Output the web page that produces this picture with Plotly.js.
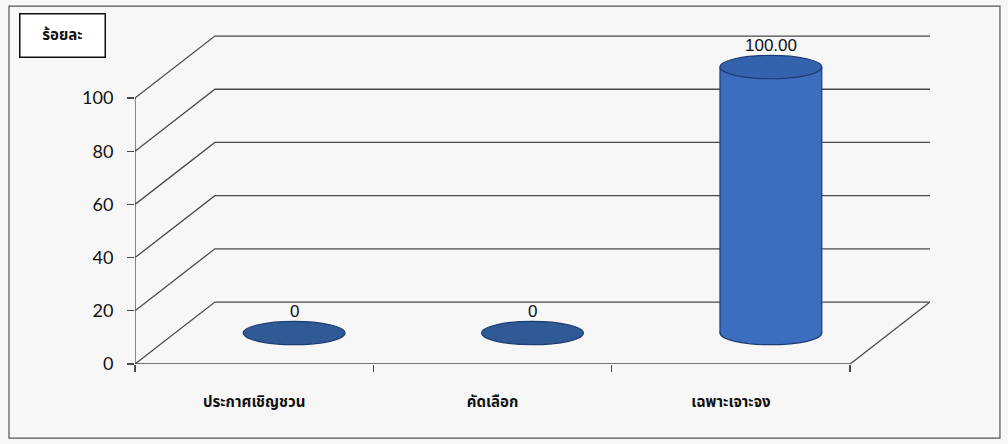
<!DOCTYPE html>
<html>
<head>
<meta charset="utf-8">
<script src="https://cdn.plot.ly/plotly-3.0.1.min.js"></script>
<style>html,body{margin:0;padding:0;background:#f7f7f7;}</style>
</head>
<body>
<div id="chart" style="width:1008px;height:444px;"></div>
<script>
// ---- data ----
const categories = ['ประกาศเชิญชวน', 'คัดเลือก', 'เฉพาะเจาะจง'];
const values = [0, 0, 100];
const dataLabels = ['0', '0', '100.00'];
const yTicks = [0, 20, 40, 60, 80, 100];
const yTitle = 'ร้อยละ';

// ---- 3D look parameters (oblique projection in data units) ----
const depthX = 0.335;   // horizontal depth offset, category units
const depthY = 23.3;    // vertical depth offset, value units
const yMax = 123.7;
const cylW = 0.427;     // cylinder width, category units
const ellH = 4.4;       // ellipse half-height, value units
const n = categories.length;
const xL = -0.5, xR = n - 0.5;

const lineCol = '#4a4a4a';
const edgeCol = '#1e3c72';
const bodyCol = '#3c6dbf';
const shapes = [];
// wall grid lines (front edge -> back wall)
yTicks.forEach(v => {
  shapes.push({type:'path', layer:'below', xref:'x', yref:'y',
    path:`M ${xL},${v} L ${xL+depthX},${v+depthY} L ${xR+depthX},${v+depthY}`,
    line:{color:lineCol, width:1.3}});
});
// floor front edge and right edge
shapes.push({type:'path', layer:'below', xref:'x', yref:'y',
  path:`M ${xL},0 L ${xR},0 L ${xR+depthX},${depthY}`,
  line:{color:lineCol, width:1.3}});
// vertical axis line
shapes.push({type:'line', layer:'below', xref:'x', yref:'y',
  x0:xL, x1:xL, y0:0, y1:yTicks[yTicks.length-1], line:{color:lineCol, width:1.3}});

const xs = values.map((v, i) => i + depthX / 2);
const base = values.map(() => depthY / 2);
// bottom ellipses (behind the cylinder body)
values.forEach((v, i) => {
  if (v > 0) {
    shapes.push({type:'circle', layer:'below', xref:'x', yref:'y',
      x0:xs[i]-cylW/2, x1:xs[i]+cylW/2, y0:base[i]-ellH, y1:base[i]+ellH,
      fillcolor:bodyCol, line:{color:edgeCol, width:1.2}});
    // cylinder side outlines
    [-1, 1].forEach(s => shapes.push({type:'line', layer:'above', xref:'x', yref:'y',
      x0:xs[i]+s*cylW/2, x1:xs[i]+s*cylW/2, y0:base[i], y1:base[i]+v,
      line:{color:edgeCol, width:1.2}}));
  }
});
// top ellipses
values.forEach((v, i) => {
  const top = base[i] + v;
  shapes.push({type:'circle', layer:'above', xref:'x', yref:'y',
    x0:xs[i]-cylW/2, x1:xs[i]+cylW/2, y0:top-ellH, y1:top+ellH,
    fillcolor: v > 0 ? '#3562ad' : '#2f5a95',
    line:{color:edgeCol, width:1.2}});
});
// outer frame
shapes.push({type:'rect', xref:'paper', yref:'paper', layer:'below',
  x0:-0.1585, x1:1.088, y0:-0.225, y1:1.088, line:{color:'#555', width:1.2}});

const annotations = values.map((v, i) => ({
  x: xs[i], y: base[i] + v + ellH, xref:'x', yref:'y',
  text: dataLabels[i], showarrow:false, yanchor:'bottom', yshift:-2,
  font:{family:'Liberation Sans, Arial, sans-serif', size:17, color:'#111'}
}));
annotations.push({
  xref:'paper', yref:'paper', x:-0.1465, y:1.0, xanchor:'left', yanchor:'middle',
  text:'<b>' + yTitle + '</b>', showarrow:false,
  bordercolor:'#111', borderwidth:1.5, borderpad:4, width:76, height:34,
  bgcolor:'#ffffff',
  font:{family:'Noto Sans Thai, Tahoma, Noto Sans, sans-serif', size:15, color:'#111'}
});

const trace = {
  type:'bar', x: xs, y: values, base: base, width: cylW,
  marker:{color:bodyCol, line:{width:0}},
  hoverinfo:'skip', showlegend:false
};

const layout = {
  width:1008, height:444,
  margin:{l:135, r:78, t:35, b:80},
  paper_bgcolor:'#f7f7f7', plot_bgcolor:'rgba(0,0,0,0)',
  showlegend:false,
  xaxis:{range:[xL, xR + depthX], showgrid:false, zeroline:false, showline:false,
    tickmode:'array', tickvals: categories.map((c, i) => i),
    ticktext: categories.map(c => '<b>' + c + '</b>'),
    ticks:'', ticklabelstandoff: 27,
    minor:{tickmode:'array', tickvals: categories.map((c, i) => i - 0.5).concat([xR]),
      ticks:'outside', ticklen:7, tickcolor:lineCol, tickwidth:1.3, showgrid:false},
    tickfont:{family:'Noto Sans Thai, Tahoma, Noto Sans, sans-serif', size:15, color:'#111'},
    fixedrange:true},
  yaxis:{range:[0, yMax], showgrid:false, zeroline:false, showline:false,
    tickmode:'array', tickvals: yTicks, ticks:'outside', ticklen:7, tickcolor:lineCol,
    tickwidth:1.3, ticklabelstandoff: 10,
    tickfont:{family:'Lato, Carlito, sans-serif', size:18, color:'#111'},
    fixedrange:true},
  shapes: shapes,
  annotations: annotations
};

Plotly.newPlot('chart', [trace], layout, {displayModeBar:false, staticPlot:true});
</script>
</body>
</html>
